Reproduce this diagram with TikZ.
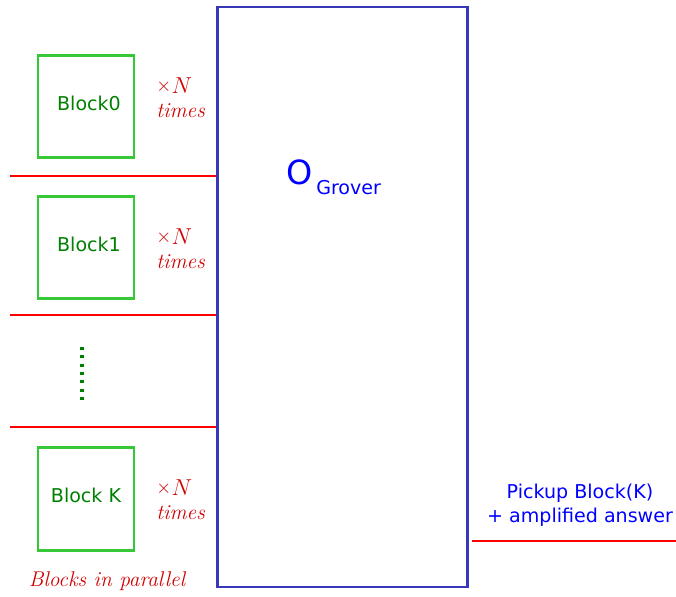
\documentclass[tikz,border=0pt]{standalone}
\usepackage{fontspec}
\setsansfont{DejaVu Sans}
\newcommand{\timesN}{\raisebox{1.3pt}{\fontsize{14.5}{14.5}\selectfont$\times$}\kern0.3pt$N$}
\begin{document}
\begin{tikzpicture}[x=0.75pt,y=-0.75pt,
  blockbox/.style={draw=boxgreen,line width=2.2pt,minimum width=72pt,minimum height=77pt,inner sep=0pt},
  blocktext/.style={text=txtgreen,font=\sffamily\fontsize{14.3}{17}\selectfont,inner sep=0pt},
  redline/.style={draw=red,line width=0.9pt},
  timeslabel/.style={text=labred,font=\fontsize{16}{18}\selectfont\itshape,inner sep=0pt,anchor=base west},
  bluetext/.style={text=blue,font=\sffamily\fontsize{14.3}{18}\selectfont}]
\definecolor{boxgreen}{RGB}{55,200,55}
\definecolor{txtgreen}{RGB}{0,128,0}
\definecolor{oblue}{RGB}{56,56,184}
\definecolor{labred}{RGB}{210,0,0}
\useasboundingbox (0,0) rectangle (676,597);
% big oracle box
\node[draw=oblue,line width=2.2pt,minimum width=188pt,minimum height=435pt,inner sep=0pt] (oracle) at (342.5,297) {};
\node[text=blue,font=\sffamily\fontsize{25}{30}\selectfont,inner sep=0pt] (O) at (300,172) {O};
\node[bluetext,anchor=west,inner sep=0pt] (sub) at (316,188) {Grover};
% blocks
\node[blockbox] (b0) at (86,106.5) {};
\node[blockbox] (b1) at (86,247.5) {};
\node[blockbox] (bk) at (86,499) {};
\node[blocktext] (b0t) at (89,103) {Block0};
\node[blocktext] (b1t) at (89,244) {Block1};
\node[blocktext] (bkt) at (86,495) {Block K};
% times labels
\node[timeslabel] (n0) at (156,93) {\timesN};
\node[timeslabel] (t0) at (156,117) {times};
\node[timeslabel] (n1) at (156,244) {\timesN};
\node[timeslabel] (t1) at (156,268) {times};
\node[timeslabel] (nk) at (156,495) {\timesN};
\node[timeslabel] (tk) at (156,519) {times};
% wires
\coordinate (w0) at (10,176);
\coordinate (w1) at (10,315);
\coordinate (w2) at (10,427);
\draw[redline] (w0) -- (w0 -| oracle.west);
\draw[redline] (w1) -- (w1 -| oracle.west);
\draw[redline] (w2) -- (w2 -| oracle.west);
\coordinate (wout) at (676,541);
\draw[redline] ([xshift=2pt]oracle.east |- wout) -- (wout);
% dots
\coordinate (d1) at (82,347);
\coordinate (d2) at (82,400);
\draw[txtgreen,line width=2.4pt,dash pattern=on 2.25pt off 4pt] (d1) -- (d2);
% output label
\node[bluetext,align=center] (out) at (580,505) {Pickup Block(K)\\+ amplified answer};
\node[text=labred,font=\fontsize{16}{18}\selectfont\itshape] (par) at (107,581) {Blocks in parallel};
\end{tikzpicture}
\end{document}
